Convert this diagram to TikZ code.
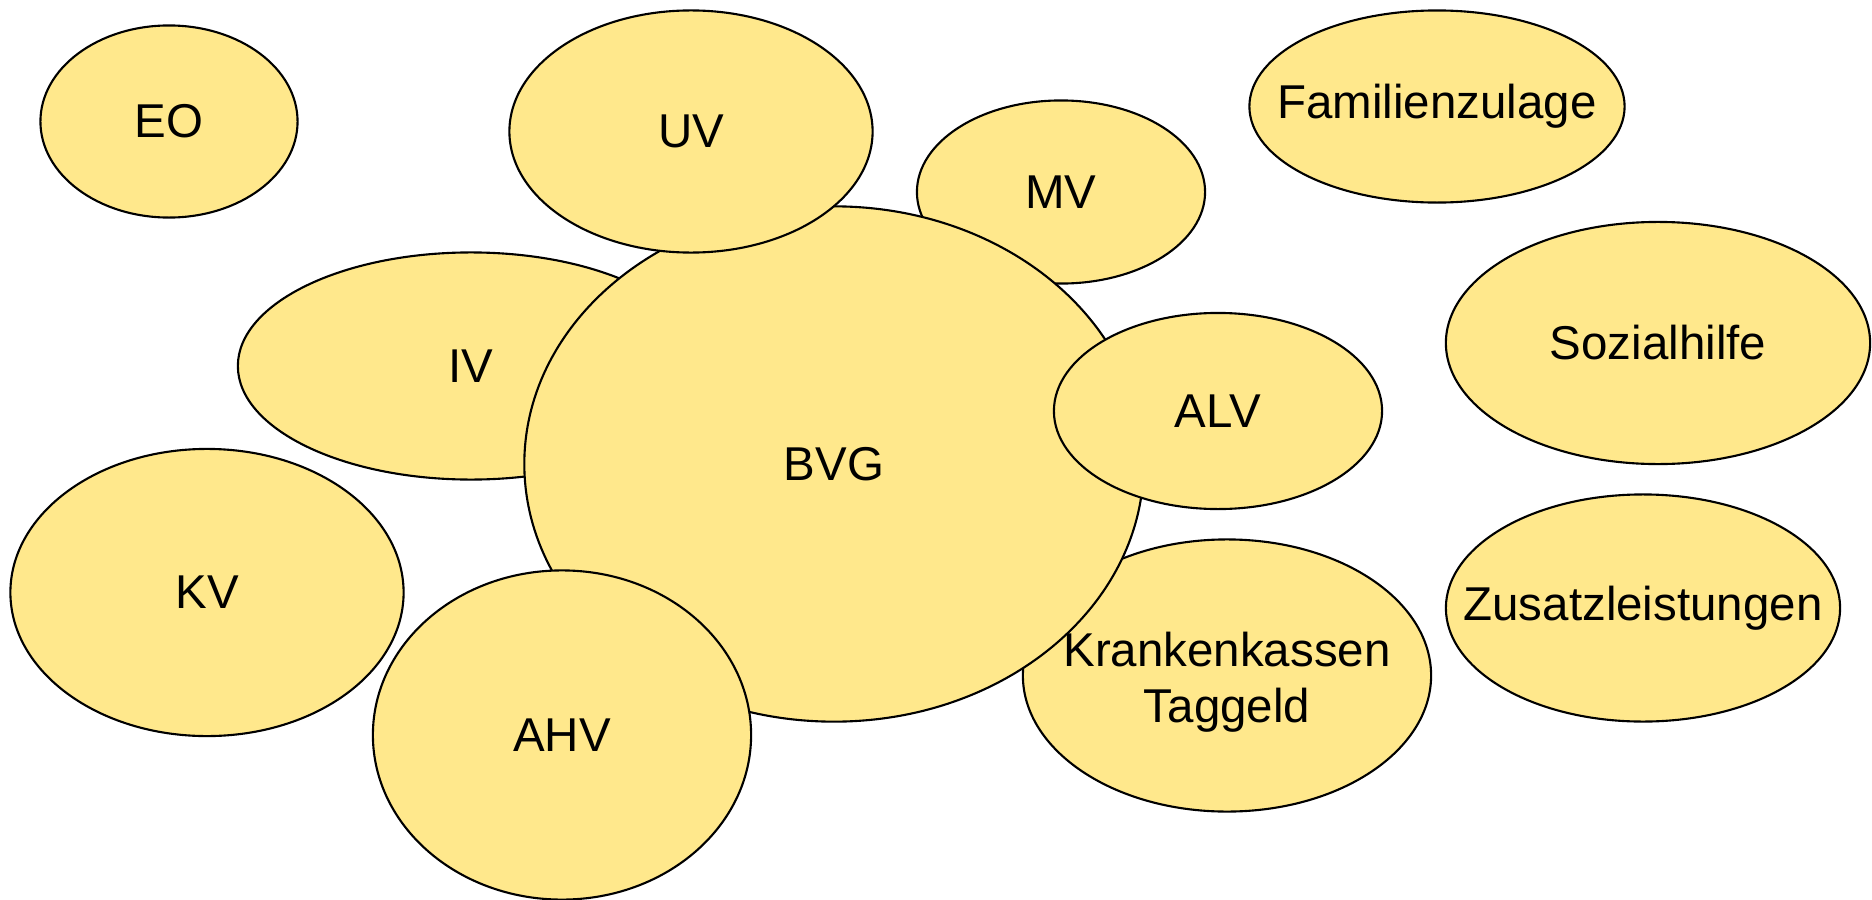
\documentclass[tikz,border=0pt]{standalone}
\usepackage{fontspec}
\setmainfont{Liberation Sans}
\usepackage{xcolor}
\usetikzlibrary{shapes.geometric}

\definecolor{pillarfill}{RGB}{255,232,140}

\begin{document}
\begin{tikzpicture}[
  x=0.01cm, y=-0.01cm,
  insurer/.style={
    ellipse,
    draw=black,
    line width=0.6pt,
    fill=pillarfill,
    inner sep=0pt,
    outer sep=0pt
  },
  acronym/.style={
    font=\fontsize{13.5}{16}\selectfont,
    align=center,
    inner sep=0pt
  }
]
\useasboundingbox (0,0) rectangle (1872,900);

% back row, free-standing
\node[insurer, minimum width=2.57cm, minimum height=1.92cm] (eo) at (169,121.5) {};
\node[insurer, minimum width=3.75cm, minimum height=1.92cm] (fam) at (1437,106.5) {};
\node[insurer, minimum width=4.24cm, minimum height=2.42cm] (soz) at (1658,343) {};
\node[insurer, minimum width=3.94cm, minimum height=2.27cm] (zus) at (1643,608) {};
\node[insurer, minimum width=3.93cm, minimum height=2.87cm] (kv) at (207,592.5) {};

% behind BVG
\node[insurer, minimum width=4.66cm, minimum height=2.27cm] (iv) at (471,366) {};
\node[insurer, minimum width=2.88cm, minimum height=1.83cm] (mv) at (1061,192) {};
\node[insurer, minimum width=4.08cm, minimum height=2.72cm] (kk) at (1227,675.5) {};

\node[insurer, minimum width=6.19cm, minimum height=5.15cm] (bvg) at (834,464) {};

% in front of BVG
\node[insurer, minimum width=3.63cm, minimum height=2.42cm] (uv) at (691,131.5) {};
\node[insurer, minimum width=3.28cm, minimum height=1.96cm] (alv) at (1218,411) {};
\node[insurer, minimum width=3.78cm, minimum height=3.29cm] (ahv) at (562,735) {};

% names
\node[acronym] (eo-t) at (eo) {EO};
\node[acronym] (fam-t) at (fam) {Familienzulage};
\node[acronym] (soz-t) at (soz) {Sozialhilfe};
\node[acronym] (zus-t) at (zus) {Zusatzleistungen};
\node[acronym] (kv-t) at (kv) {KV};
\node[acronym] (iv-t) at (iv) {IV};
\node[acronym] (mv-t) at (mv) {MV};
\node[acronym] (kk-t) at ([yshift=-0.07cm]kk.center) {Krankenkassen\\Taggeld};
\node[acronym] (bvg-t) at (bvg) {BVG};
\node[acronym] (uv-t) at (uv) {UV};
\node[acronym] (alv-t) at (alv) {ALV};
\node[acronym] (ahv-t) at (ahv) {AHV};

\end{tikzpicture}
\end{document}
